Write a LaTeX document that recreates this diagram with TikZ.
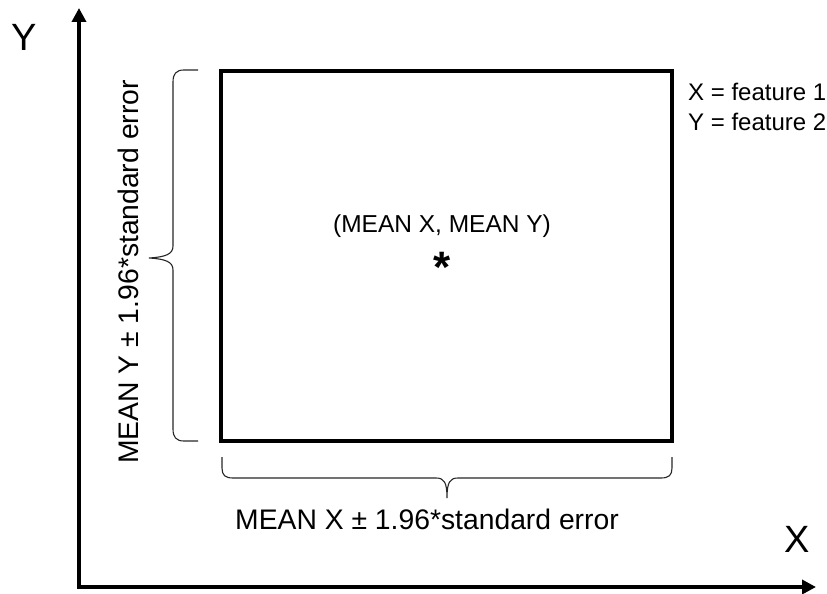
\documentclass[tikz,border=0pt]{standalone}
\usepackage{fontspec}
\setmainfont{Liberation Sans}
\usetikzlibrary{arrows.meta}
\tikzset{
  axis/.style={line width=4pt, {Triangle[length=14pt,width=14pt]}-{Triangle[length=14pt,width=14pt]}},
  box/.style={line width=4pt},
  bracepath/.style={line width=1.1pt, black!85},
  biglabel/.style={font=\fontsize{38}{40}\selectfont, inner sep=0pt},
  midlabel/.style={font=\fontsize{28.3}{32}\selectfont, inner sep=0pt},
  smalllabel/.style={font=\fontsize{24}{30}\selectfont, inner sep=0pt, align=left},
}
\begin{document}
\begin{tikzpicture}[x=1pt,y=-1pt]
\useasboundingbox (0,0) rectangle (827,594);
% axes
\coordinate (o) at (79,587);
\coordinate (ytip) at (79,8);
\coordinate (xtip) at (816,587);
\draw[axis] (xtip) -- (o) -- (ytip);
\node[biglabel] (ylab) at (24,37) {Y};
\node[biglabel] (xlab) at (797,539) {X};
% rectangle
\coordinate (r1) at (221,71);
\coordinate (r2) at (672,441);
\draw[box] (r1) rectangle (r2);
% vertical brace
\draw[bracepath] (198,70) -- (184,70) .. controls (176,70) and (173,74) .. (173,82)
  -- (173,246) .. controls (173,254) and (166,257) .. (149,258)
  .. controls (166,259) and (173,262) .. (173,270)
  -- (173,429) .. controls (173,437) and (176,441) .. (184,441) -- (198,441);
% horizontal brace
\draw[bracepath] (222,457) -- (222,468) .. controls (222,475) and (225,478) .. (233,478)
  -- (436,478) .. controls (444,478) and (447,482) .. (447,498)
  .. controls (447,482) and (450,478) .. (458,478)
  -- (661,478) .. controls (669,478) and (672,475) .. (672,468) -- (672,457);
% labels
\node[midlabel] (xrange) at (427,519) {MEAN X ± 1.96*standard error};
\node[midlabel, rotate=90] (yrange) at (128,272) {MEAN Y ± 1.96*standard error};
\node[font=\fontsize{24.5}{28}\selectfont, inner sep=0pt] (mean) at (442,226) {(MEAN X, MEAN Y)};
\node[font=\bfseries\fontsize{44}{44}\selectfont, inner sep=0pt] (star) at (442,267) {*};
\node[smalllabel, anchor=north west] (legend) at (688,83) {X = feature 1\\Y = feature 2};
\end{tikzpicture}
\end{document}
